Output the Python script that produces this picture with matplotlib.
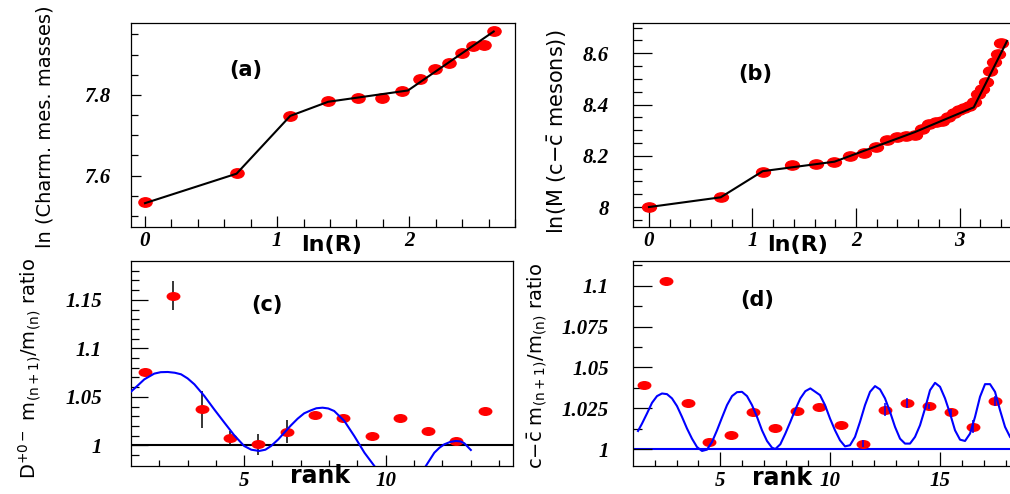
import numpy as np
import matplotlib.pyplot as plt
from matplotlib.path import Path
from matplotlib.transforms import Affine2D
from matplotlib.ticker import FixedLocator, FixedFormatter


# (a) charm mesons: ln(R) vs ln(mass)
a_lnr = [0.0, 0.693, 1.099, 1.386, 1.609, 1.792, 1.946, 2.079, 2.197, 2.303,
         2.398, 2.485, 2.565, 2.639]
a_lnm = [7.534, 7.607, 7.749, 7.785, 7.793, 7.793, 7.810, 7.839, 7.864, 7.878,
         7.903, 7.920, 7.924, 7.957]
a_fit_x = [0.0, 0.693, 1.099, 1.386, 1.99, 2.639]
a_fit_y = [7.532, 7.605, 7.748, 7.783, 7.811, 7.957]

# (b) c-cbar mesons
b_lnr = [0.0, 0.693, 1.099, 1.386, 1.609, 1.792, 1.946, 2.079, 2.197, 2.303,
         2.398, 2.485, 2.565, 2.639, 2.708, 2.773, 2.833, 2.890, 2.944, 2.996,
         3.045, 3.091, 3.135, 3.178, 3.219, 3.258, 3.296, 3.332, 3.367, 3.401]
b_lnm = [8.000, 8.039, 8.135, 8.163, 8.168, 8.177, 8.199, 8.212, 8.235, 8.261,
         8.272, 8.277, 8.283, 8.303, 8.326, 8.333, 8.336, 8.353, 8.366, 8.378,
         8.386, 8.395, 8.410, 8.440, 8.460, 8.488, 8.531, 8.565, 8.599, 8.641]
b_fit_x = [0.0, 0.693, 1.099, 1.792, 2.565, 3.137, 3.459]
b_fit_y = [8.000, 8.038, 8.140, 8.177, 8.292, 8.389, 8.648]

# (c) D mesons, ratio of successive masses
c_rank = [1.5, 2.5, 3.5, 4.5, 5.5, 6.5, 7.5, 8.5, 9.5, 10.5, 11.5, 12.5, 13.5]
c_ratio = [1.076, 1.154, 1.037, 1.008, 1.001, 1.014, 1.031, 1.028, 1.010,
           1.028, 1.015, 1.004, 1.035]
c_err = [0, 0.015, 0.019, 0.007, 0.011, 0.012, 0, 0, 0, 0, 0, 0, 0]
c_fit_x = [1.0, 1.25, 1.47, 1.82, 2.05, 2.30, 2.55, 2.77, 3.0, 3.24, 3.59,
           3.94, 4.30, 4.65, 5.0, 5.25, 5.53, 5.75, 5.95, 6.2, 6.42, 6.65,
           6.89, 7.12, 7.36, 7.55, 7.77, 7.97, 8.18, 8.54, 8.89, 9.25, 9.60,
           np.nan, 11.42, 11.72, 11.9, 12.07, 12.28, 12.48, 12.65, 12.78,
           13.01]
c_fit_y = [1.0553, 1.062, 1.068, 1.0739, 1.0754, 1.0756, 1.0748, 1.0732,
           1.0690, 1.0629, 1.0509, 1.0371, 1.0234, 1.0103, 0.9993, 0.9955,
           0.9942, 0.9955, 0.9993, 1.0060, 1.0131, 1.0205, 1.0275, 1.0330,
           1.0361, 1.0382, 1.0388, 1.0380, 1.0354, 1.0251, 1.0096, 0.9924,
           0.9787, np.nan, 0.9787, 0.9924, 0.9975, 1.001, 1.0035, 1.0045,
           1.0040, 1.0021, 0.9952]

# (d) c-cbar mesons, ratio of successive masses
d_rank = [1.5, 2.5, 3.5, 4.5, 5.5, 6.5, 7.5, 8.5, 9.5, 10.5, 11.5, 12.5, 13.5,
          14.5, 15.5, 16.5, 17.5]
d_ratio = [1.039, 1.1025, 1.028, 1.0043, 1.0086, 1.0229, 1.0133, 1.0235,
           1.0261, 1.0147, 1.0035, 1.0243, 1.0282, 1.0263, 1.0229, 1.0137,
           1.0294]
d_err = [0, 0, 0, 0, 0, 0, 0, 0, 0, 0, 0.002, 0.004, 0.003, 0.0015, 0.002,
         0.004, 0.003]
d_fit_x = [1.242, 1.424, 1.652, 1.880, 2.108, 2.336, 2.564, 2.792, 3.020,
           3.248, 3.476, 3.704, 3.932, 4.160, 4.388, 4.616, 4.844, 5.072,
           5.300, 5.528, 5.756, 5.984, 6.212, 6.440, 6.668, 6.896, 7.124,
           7.352, 7.504, 7.732, 7.960, 8.188, 8.416, 8.644, 8.872, 9.100,
           9.328, 9.541, 9.769, 9.997, 10.225, 10.453, 10.681, 10.909,
           11.137, 11.365, 11.593, 11.821, 12.049, 12.277, 12.505, 12.733,
           12.961, 13.189, 13.417, 13.645, 13.873, 14.101, 14.329, 14.557,
           14.785, 15.013, 15.241, 15.469, 15.697, 15.925, 16.153, 16.381,
           16.609, 16.837, 17.065, 17.293, 17.521, 17.749, 17.977, 18.205]
d_fit_y = [1.0112, 1.0157, 1.0219, 1.0284, 1.0325, 1.0341, 1.0337, 1.0311,
           1.0264, 1.0198, 1.0127, 1.0065, 1.0014, 0.9990, 0.9998, 1.0045,
           1.0116, 1.0194, 1.0270, 1.0325, 1.0349, 1.0351, 1.0325, 1.0270,
           1.0198, 1.0116, 1.0051, 1.0010, 1.0002, 1.0031, 1.0096, 1.0168,
           1.0243, 1.0311, 1.0355, 1.0372, 1.0351, 1.0331, 1.0270, 1.0188,
           1.0116, 1.0055, 1.0018, 1.0025, 1.0076, 1.0168, 1.0270, 1.0351,
           1.0386, 1.0366, 1.0311, 1.0229, 1.0137, 1.0065, 1.0035, 1.0035,
           1.0076, 1.0147, 1.0249, 1.0361, 1.0406, 1.0382, 1.0311, 1.0219,
           1.0116, 1.0059, 1.0051, 1.0096, 1.0198, 1.0321, 1.0398, 1.0398,
           1.0351, 1.0239, 1.0137, 1.0076]


W, H = 1010, 494
fig = plt.figure(figsize=(W / 100, H / 100), dpi=100)


def px_axes(l, t, r, b):
    return fig.add_axes([l / W, 1 - b / H, (r - l) / W, (b - t) / H])


def oval(ratio):
    return Path.unit_circle().transformed(Affine2D().scale(ratio, 1.0))


def style(ax, xmaj, xlab, xmin, ymaj, ylab, ymin, ypad, xpad, lens):
    ax.xaxis.set_major_locator(FixedLocator(xmaj))
    ax.xaxis.set_major_formatter(FixedFormatter(xlab))
    ax.xaxis.set_minor_locator(FixedLocator(xmin))
    ax.yaxis.set_major_locator(FixedLocator(ymaj))
    ax.yaxis.set_major_formatter(FixedFormatter(ylab))
    ax.yaxis.set_minor_locator(FixedLocator(ymin))
    ax.tick_params(which='both', direction='in', top=False, right=False,
                   width=0.9, labelsize=15, labelfontfamily='Liberation Serif')
    ax.tick_params(axis='x', which='major', length=lens[0], pad=xpad)
    ax.tick_params(axis='x', which='minor', length=lens[1])
    ax.tick_params(axis='y', which='major', length=lens[2], pad=ypad)
    ax.tick_params(axis='y', which='minor', length=lens[3])
    for lab in ax.get_xticklabels() + ax.get_yticklabels():
        lab.set_fontstyle('italic')
        lab.set_fontweight('bold')
    for s in ax.spines.values():
        s.set_linewidth(0.9)


# (a)
ax = px_axes(131, 23, 515, 227)
ax.plot(a_lnr, a_lnm, linestyle='none', marker=oval(1.4), ms=9.5,
        color='red', zorder=2)
ax.plot(a_fit_x, a_fit_y, color='black', lw=1.5, zorder=3)
ax.set_xlim(-0.106, 2.8)
ax.set_ylim(7.473, 7.978)
style(ax, [0, 1, 2], ['0', '1', '2'], np.arange(0, 2.81, 0.2),
      [7.6, 7.8], ['7.6', '7.8'], np.arange(7.5, 7.96, 0.05), 15, 3,
      (8, 6, 7, 5))

# (b)
ax = px_axes(632.7, 23.3, 1011.3, 227.3)
ax.plot(b_lnr, b_lnm, linestyle='none', marker=oval(1.5), ms=10,
        color='red', zorder=2)
ax.plot(b_fit_x, b_fit_y, color='black', lw=1.5, zorder=3)
ax.set_xlim(-0.157, 3.5)
ax.set_ylim(7.921, 8.717)
style(ax, [0, 1, 2, 3], ['0', '1', '2', '3'], np.arange(0, 3.51, 0.2),
      [8, 8.2, 8.4, 8.6], ['8', '8.2', '8.4', '8.6'],
      np.arange(7.95, 8.71, 0.05), 17, 3, (14, 6, 14, 6.5))

# (c)
ax = px_axes(131, 261, 513, 465.7)
ax.errorbar(c_rank, c_ratio, yerr=c_err, fmt='none', ecolor='black',
            elinewidth=1.1, capsize=0, zorder=2)
ax.plot(c_rank, c_ratio, linestyle='none', marker=oval(1.65), ms=9,
        color='red', zorder=3)
ax.axhline(1, color='black', lw=1.5, zorder=1)
ax.plot(c_fit_x, c_fit_y, color='#0000ff', lw=1.5, zorder=4)
ax.set_xlim(1, 14.5)
ax.set_ylim(0.979, 1.19)
style(ax, [5, 10], ['5', '10'], np.arange(2, 14.1, 1),
      [1, 1.05, 1.1, 1.15], ['1', '1.05', '1.1', '1.15'],
      np.arange(0.99, 1.186, 0.01), 21, 4, (8, 4.5, 12, 6))

# (d)
ax = px_axes(632.7, 261, 1016.5, 465.7)
ax.plot(d_rank, d_ratio, linestyle='none', marker=oval(1.65), ms=9,
        color='red', zorder=2)
ax.errorbar(d_rank, d_ratio, yerr=d_err, fmt='none', ecolor='#0000ff',
            elinewidth=1.1, capsize=0, zorder=3)
ax.axhline(1, color='#0000ff', lw=1.5, zorder=1)
ax.plot(d_fit_x, d_fit_y, color='#0000ff', lw=1.5, zorder=4)
ax.set_xlim(1, 18.5)
ax.set_ylim(0.990, 1.115)
style(ax, [5, 10, 15], ['5', '10', '15'], np.arange(2, 18.1, 1),
      [1, 1.025, 1.05, 1.075, 1.1], ['1', '1.025', '1.05', '1.075', '1.1'],
      np.arange(1, 1.113, 0.0125), 17, 4, (10, 4.5, 14, 6.5))


def ftext(x, y, s, **kw):
    fig.text(x / W, 1 - y / H, s, ha='center', va='center',
             family='DejaVu Sans', **kw)


ftext(246, 70, '(a)', fontsize=15, weight='bold')
ftext(755, 74, '(b)', fontsize=15, weight='bold')
ftext(267, 305, '(c)', fontsize=15, weight='bold')
ftext(757, 300, '(d)', fontsize=15, weight='bold')

ftext(332, 245, 'ln(R)', fontsize=16, weight='bold')
ftext(798, 245, 'ln(R)', fontsize=16, weight='bold')
ftext(320, 476, 'rank', fontsize=17, weight='bold')
ftext(782, 478, 'rank', fontsize=17, weight='bold')

ftext(45, 127, 'ln (Charm. mes. masses)', fontsize=14, rotation=90)
ftext(557, 132, r'ln(M (c$-\bar{\mathrm{c}}$ mesons))', fontsize=15,
      rotation=90)
ftext(30, 368, r'D$^{+0-}$ m$_{\mathrm{(n+1)}}$/m$_{\mathrm{(n)}}$ ratio',
      fontsize=14, rotation=90)
ftext(537, 366, r'c$-\bar{\mathrm{c}}$ m$_{\mathrm{(n+1)}}$/m$_{\mathrm{(n)}}$ ratio',
      fontsize=14, rotation=90)

fig.savefig('out.png', dpi=100)
